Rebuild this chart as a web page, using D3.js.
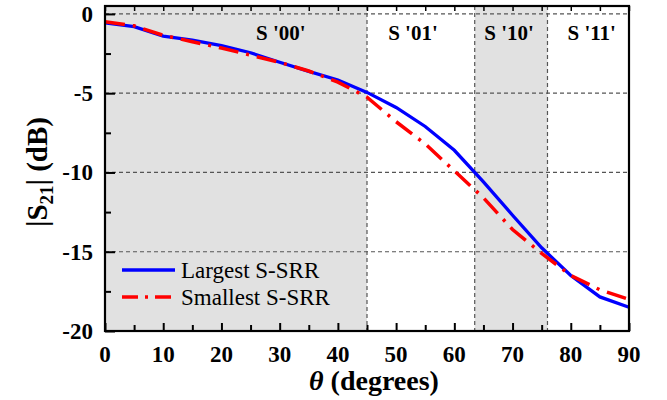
<!DOCTYPE html>
<html><head><meta charset="utf-8">
<script src="https://cdn.jsdelivr.net/npm/d3@7/dist/d3.min.js"></script>
<style>body{margin:0;background:#fff}svg{display:block}text{font-family:"Liberation Serif","Times New Roman",serif}</style>
</head><body>
<script>
const angles = [0,5,10,15,20,25,30,35,40,45,50,55,60,65,70,75,80,85,90];
const largest = [-0.57,-0.8,-1.4,-1.65,-2.0,-2.45,-3.05,-3.62,-4.17,-4.95,-5.9,-7.1,-8.6,-10.6,-12.7,-14.75,-16.5,-17.85,-18.5];
const smallest = [-0.5,-0.75,-1.35,-1.75,-2.15,-2.6,-3.05,-3.6,-4.3,-5.25,-6.8,-8.2,-9.9,-11.6,-13.6,-15.1,-16.5,-17.4,-18.0];
const regionBounds = [0,45,63.5,76,90];
const regionLabels = ["S '00'","S '01'","S '10'","S '11'"];
const regionLabelAt = [30.2,52.9,69.4,83.6];
const regionShaded = [true,false,true,false];
const xTicks = [0,10,20,30,40,50,60,70,80,90];
const yTicks = [0,-5,-10,-15,-20];
const seriesNames = ["Largest S-SRR","Smallest S-SRR"];

const W=667,H=400;
const svg=d3.select("body").append("svg").attr("width",W).attr("height",H);
const L=105,R=629,T=6,B=331;
const x=d3.scaleLinear().domain([0,90]).range([L,R]);
const y=d3.scaleLinear().domain([-20,0.5]).range([B,T]);

regionShaded.forEach((s,i)=>{
  if(s) svg.append("rect").attr("x",x(regionBounds[i])).attr("y",T)
    .attr("width",x(regionBounds[i+1])-x(regionBounds[i])).attr("height",B-T).attr("fill","#e1e1e1");
});
svg.append("g").selectAll("line").data(yTicks.filter(v=>v>-20)).join("line")
  .attr("x1",L).attr("x2",R).attr("y1",d=>y(d)).attr("y2",d=>y(d))
  .attr("stroke","#555").attr("stroke-width",1.2).attr("stroke-dasharray","4,3");
svg.append("g").selectAll("line").data(regionBounds.slice(1,-1)).join("line")
  .attr("x1",d=>x(d)).attr("x2",d=>x(d)).attr("y1",T).attr("y2",B)
  .attr("stroke","#555").attr("stroke-width",1.2).attr("stroke-dasharray","4,3");
svg.append("g").selectAll("text").data(regionLabels).join("text")
  .attr("x",(d,i)=>x(regionLabelAt[i])).attr("y",40).attr("text-anchor","middle")
  .attr("font-weight","bold").attr("font-size",21).text(d=>d);

const lineL=d3.line().x((d,i)=>x(angles[i])).y(d=>y(d));
svg.append("path").datum(largest).attr("d",lineL).attr("fill","none")
  .attr("stroke","#0000ff").attr("stroke-width",3.3);
svg.append("path").datum(smallest).attr("d",lineL).attr("fill","none")
  .attr("stroke","#ff0000").attr("stroke-width",3.5).attr("stroke-dasharray","20,8,3,8");

svg.append("rect").attr("x",L).attr("y",T).attr("width",R-L).attr("height",B-T)
  .attr("fill","none").attr("stroke","#000").attr("stroke-width",2.2);

const xAxis=d3.axisBottom(x).tickValues(d3.range(0,91,5)).tickSizeOuter(0).tickFormat(()=> "");
svg.append("g").attr("transform",`translate(0,${B})`).call(xAxis)
  .call(g=>g.selectAll(".tick line").attr("stroke","#000").attr("stroke-width",2).attr("y2",d=>d%10===0?-8:-6));
const xTop=d3.axisTop(x).tickValues(d3.range(0,91,5)).tickSizeOuter(0).tickFormat(()=>"");
svg.append("g").attr("transform",`translate(0,${T})`).call(xTop)
  .call(g=>g.selectAll(".tick line").attr("stroke","#000").attr("stroke-width",1.5).attr("y2",5));
svg.append("g").selectAll("text").data(xTicks).join("text")
  .attr("x",d=>x(d)).attr("y",362).attr("text-anchor","middle")
  .attr("font-weight","bold").attr("font-size",23).text(d=>d);

const yAxis=d3.axisLeft(y).tickValues(d3.range(-20,0.1,2.5)).tickSizeOuter(0).tickFormat(()=>"");
svg.append("g").attr("transform",`translate(${L},0)`).call(yAxis)
  .call(g=>g.selectAll(".tick line").attr("stroke","#000").attr("stroke-width",2).attr("x2",d=>d%5===0?10:6));
svg.append("g").selectAll("text").data(yTicks).join("text")
  .attr("x",93).attr("y",d=>y(d)+8).attr("text-anchor","end")
  .attr("font-weight","bold").attr("font-size",23).text(d=>d);

svg.selectAll(".domain").remove();

const yt=svg.append("text").attr("transform","translate(47,172) rotate(-90)").attr("text-anchor","middle")
  .attr("font-weight","bold").attr("font-size",29);
yt.append("tspan").text("|S");
yt.append("tspan").attr("font-size",19).attr("dy",6).text("21");
yt.append("tspan").attr("dy",-6).text("| (dB)");
const xt=svg.append("text").attr("x",374).attr("y",390).attr("text-anchor","middle")
  .attr("font-weight","bold").attr("font-size",28);
xt.append("tspan").attr("font-style","italic").text("θ");
xt.append("tspan").text(" (degrees)");

const lg=svg.append("g");
const dashes=[null,"16,7,3,7"];
const colors=["#0000ff","#ff0000"];
seriesNames.forEach((n,i)=>{
  const yy=270+i*27;
  lg.append("line").attr("x1",122).attr("x2",175).attr("y1",yy).attr("y2",yy)
    .attr("stroke",colors[i]).attr("stroke-width",3.4).attr("stroke-dasharray",dashes[i]);
  lg.append("text").attr("x",181).attr("y",yy+8).attr("font-size",23).text(n);
});
</script>
</body></html>
